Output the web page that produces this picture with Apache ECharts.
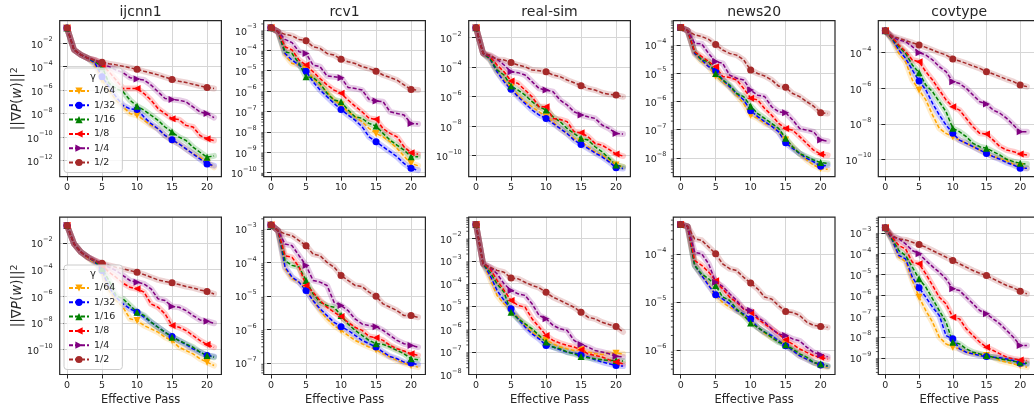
<!DOCTYPE html>
<html><head><meta charset="utf-8">
<script src="https://cdn.jsdelivr.net/npm/echarts@6/dist/echarts.min.js"></script>
<style>html,body{margin:0;padding:0;background:#fff}#c{width:1034px;height:413px}</style>
</head><body><div id="c"></div>
<script>
// ---------- DATA (values are log10 of ||∇P(w)||²) ----------
const datasets = ['ijcnn1', 'rcv1', 'real-sim', 'news20', 'covtype'];
const gammas = ['1/64', '1/32', '1/16', '1/8', '1/4', '1/2'];
const passes = [0,1,2,3,4,5,6,7,8,9,10,11,12,13,14,15,16,17,18,19,20,21];
const xTicks = [0, 5, 10, 15, 20];

// row 1
const ijcnn1_r1_g64 = [-0.71,-2.57,-3.0,-3.3,-3.86,-5.14,-6.0,-6.86,-7.43,-8.0,-8.14,-8.57,-9.0,-9.29,-9.86,-10.29,-10.57,-11.0,-11.43,-11.71,-12.14,-12.57];
const ijcnn1_r1_g32 = [-0.71,-2.57,-3.0,-3.3,-3.71,-4.86,-5.71,-6.57,-7.3,-7.6,-7.66,-8.29,-8.86,-9.29,-9.86,-10.23,-10.57,-11.0,-11.43,-11.86,-12.29,-12.43];
const ijcnn1_r1_g16 = [-0.71,-2.57,-3.0,-3.29,-3.57,-4.0,-5.43,-5.86,-6.14,-6.86,-7.37,-7.71,-8.14,-8.57,-9.14,-9.57,-10.0,-10.29,-10.86,-11.29,-11.71,-11.6];
const ijcnn1_r1_g8  = [-0.71,-2.57,-3.0,-3.29,-3.45,-3.86,-4.43,-5.14,-5.86,-5.86,-5.86,-6.29,-6.86,-7.57,-8.0,-8.43,-8.51,-9.0,-9.14,-9.86,-10.14,-10.29];
const ijcnn1_r1_g4  = [-0.71,-2.57,-3.0,-3.29,-3.45,-3.75,-4.0,-4.29,-4.51,-4.94,-5.06,-5.14,-5.57,-6.14,-6.71,-6.8,-6.86,-7.0,-7.43,-7.86,-8.0,-8.34];
const ijcnn1_r1_g2  = [-0.71,-2.57,-3.0,-3.29,-3.45,-3.63,-3.75,-3.85,-3.97,-4.1,-4.23,-4.4,-4.55,-4.7,-4.9,-5.09,-5.25,-5.35,-5.5,-5.65,-5.77,-5.86];

const rcv1_r1_g64 = [-2.89,-3.08,-4.23,-4.64,-4.72,-4.89,-5.38,-5.7,-6.03,-6.44,-6.69,-7.02,-7.26,-7.51,-7.84,-8.08,-8.25,-8.49,-8.82,-9.2,-9.56,-9.67];
const rcv1_r1_g32 = [-2.89,-3.08,-4.15,-4.48,-4.72,-5.02,-5.54,-5.95,-6.28,-6.61,-6.9,-7.18,-7.43,-7.75,-8.25,-8.49,-8.74,-8.98,-9.23,-9.56,-9.8,-9.89];
const rcv1_r1_g16 = [-2.89,-3.08,-4.07,-4.15,-4.64,-5.3,-5.33,-5.62,-6.11,-6.44,-6.52,-6.93,-7.26,-7.34,-7.59,-7.72,-8.08,-8.41,-8.66,-8.9,-9.23,-9.23];
const rcv1_r1_g8  = [-2.89,-3.08,-3.82,-3.98,-4.48,-4.72,-5.05,-5.38,-5.7,-5.95,-6.11,-6.44,-6.74,-7.02,-7.34,-7.39,-7.84,-8.08,-8.25,-8.74,-9.03,-9.1];
const rcv1_r1_g4  = [-2.89,-3.08,-3.46,-3.62,-4.07,-4.15,-4.72,-4.8,-5.26,-5.3,-5.34,-5.82,-5.87,-5.95,-6.41,-6.49,-6.52,-7.02,-7.1,-7.18,-7.59,-7.62];
const rcv1_r1_g2  = [-2.89,-3.08,-3.21,-3.28,-3.46,-3.52,-3.82,-3.9,-4.15,-4.23,-4.43,-4.56,-4.64,-4.8,-4.89,-5.02,-5.21,-5.33,-5.46,-5.7,-5.92,-5.95];

const realsim_r1_g64 = [-1.32,-3.06,-3.51,-4.31,-4.87,-5.37,-5.89,-6.34,-6.68,-7.02,-7.36,-7.69,-8.15,-8.49,-8.82,-9.05,-9.39,-9.73,-9.95,-10.29,-10.63,-10.75];
const realsim_r1_g32 = [-1.32,-3.06,-3.47,-4.31,-4.98,-5.5,-6.0,-6.45,-6.9,-7.24,-7.47,-7.81,-8.15,-8.49,-8.94,-9.23,-9.5,-9.8,-10.07,-10.41,-10.81,-10.86];
const realsim_r1_g16 = [-1.32,-3.06,-3.4,-4.19,-4.53,-5.28,-5.55,-5.89,-6.34,-6.68,-6.9,-7.36,-7.69,-8.15,-8.49,-8.82,-8.94,-9.39,-9.73,-10.18,-10.63,-10.75];
const realsim_r1_g8  = [-1.32,-3.06,-3.29,-3.85,-4.31,-4.94,-5.1,-5.55,-6.0,-6.68,-6.68,-7.47,-7.54,-7.69,-8.37,-8.44,-8.71,-9.16,-9.28,-9.57,-9.89,-10.02];
const realsim_r1_g4  = [-1.32,-3.06,-3.24,-3.47,-3.85,-4.31,-4.37,-4.53,-4.98,-5.44,-5.55,-5.66,-6.23,-6.56,-7.02,-7.24,-7.36,-7.47,-7.92,-8.15,-8.49,-8.53];
const realsim_r1_g2  = [-1.32,-3.06,-3.18,-3.47,-3.51,-3.69,-3.85,-3.97,-4.19,-4.24,-4.31,-4.53,-4.64,-4.87,-5.05,-5.25,-5.44,-5.55,-5.73,-5.84,-5.89,-6.0];

const news20_r1_g64 = [-3.38,-3.49,-4.32,-4.59,-4.77,-5.1,-5.3,-5.5,-5.78,-6.07,-6.49,-6.6,-6.78,-6.88,-7.08,-7.37,-7.61,-7.85,-8.08,-8.26,-8.38,-8.41];
const news20_r1_g32 = [-3.38,-3.49,-4.3,-4.53,-4.77,-4.91,-5.24,-5.48,-5.72,-5.95,-6.33,-6.54,-6.72,-6.88,-7.08,-7.47,-7.67,-7.85,-8.02,-8.14,-8.3,-8.26];
const news20_r1_g16 = [-3.38,-3.49,-4.24,-4.53,-4.59,-5.01,-5.24,-5.42,-5.72,-5.83,-6.17,-6.43,-6.6,-6.78,-6.96,-7.31,-7.61,-7.85,-7.96,-8.08,-8.17,-8.2];
const news20_r1_g8  = [-3.38,-3.49,-4.24,-4.41,-4.59,-4.77,-5.12,-5.15,-5.24,-5.54,-5.89,-5.95,-6.25,-6.49,-6.78,-6.96,-7.02,-7.25,-7.49,-7.73,-7.87,-7.91];
const news20_r1_g4  = [-3.38,-3.49,-3.94,-3.96,-4.3,-4.59,-4.65,-5.07,-5.18,-5.24,-5.6,-5.78,-5.83,-6.19,-6.37,-6.4,-6.66,-6.96,-7.02,-7.08,-7.37,-7.41];
const news20_r1_g2  = [-3.38,-3.49,-3.64,-3.7,-3.8,-3.98,-4.18,-4.3,-4.36,-4.53,-4.89,-5.01,-5.1,-5.24,-5.46,-5.5,-5.72,-5.83,-6.01,-6.17,-6.4,-6.43];

const covtype_r1_g64 = [-2.76,-3.29,-4.04,-4.51,-5.54,-6.1,-6.66,-7.51,-8.26,-8.54,-8.73,-8.92,-9.1,-9.29,-9.48,-9.67,-9.85,-9.95,-10.08,-10.27,-10.42,-10.51];
const covtype_r1_g32 = [-2.76,-3.23,-3.85,-4.32,-4.98,-5.59,-6.1,-6.85,-7.51,-8.07,-8.54,-8.92,-9.1,-9.29,-9.48,-9.67,-9.85,-10.0,-10.19,-10.32,-10.51,-10.51];
const covtype_r1_g16 = [-2.76,-3.19,-3.66,-4.04,-4.69,-5.13,-5.82,-6.2,-6.76,-7.32,-8.26,-8.45,-8.73,-9.1,-9.29,-9.38,-9.57,-9.76,-10.0,-10.13,-10.23,-10.27];
const covtype_r1_g8  = [-2.76,-3.14,-3.57,-3.94,-4.41,-4.51,-5.07,-5.54,-6.1,-6.66,-7.04,-7.23,-7.7,-8.17,-8.54,-8.58,-8.92,-9.29,-9.48,-9.57,-9.7,-9.76];
const covtype_r1_g4  = [-2.76,-3.1,-3.29,-3.38,-3.66,-4.0,-4.13,-4.41,-4.79,-5.07,-5.63,-5.73,-6.01,-6.38,-6.76,-6.89,-7.23,-7.41,-7.7,-8.07,-8.45,-8.45];
const covtype_r1_g2  = [-2.76,-3.06,-3.19,-3.32,-3.44,-3.57,-3.7,-3.85,-4.0,-4.13,-4.36,-4.47,-4.6,-4.75,-4.88,-5.07,-5.2,-5.35,-5.5,-5.63,-5.82,-5.91];

// row 2
const ijcnn1_r2_g64 = [-0.7,-2.08,-2.7,-3.13,-3.53,-4.2,-5.58,-6.33,-6.83,-7.7,-7.83,-8.2,-8.45,-8.7,-9.08,-9.33,-9.83,-10.08,-10.33,-10.7,-10.95,-11.2];
const ijcnn1_r2_g32 = [-0.7,-2.08,-2.7,-3.08,-3.45,-4.08,-5.33,-6.08,-6.58,-6.95,-7.2,-7.58,-7.95,-8.33,-8.7,-9.03,-9.33,-9.63,-9.95,-10.2,-10.45,-10.53];
const ijcnn1_r2_g16 = [-0.7,-2.08,-2.7,-3.08,-3.38,-3.95,-4.83,-5.95,-6.2,-6.7,-7.2,-7.45,-7.95,-8.33,-8.7,-9.08,-9.33,-9.58,-9.83,-10.2,-10.45,-10.58];
const ijcnn1_r2_g8  = [-0.7,-2.08,-2.7,-3.08,-3.33,-3.7,-4.2,-4.58,-5.03,-5.33,-5.45,-5.7,-6.58,-6.83,-7.33,-8.2,-8.33,-8.58,-8.95,-9.33,-9.63,-9.83];
const ijcnn1_r2_g4  = [-0.7,-2.08,-2.7,-3.08,-3.33,-3.58,-3.83,-4.08,-4.45,-4.83,-4.95,-5.08,-5.45,-6.2,-6.33,-6.78,-6.83,-7.08,-7.45,-7.78,-7.88,-8.03];
const ijcnn1_r2_g2  = [-0.7,-2.08,-2.7,-3.08,-3.33,-3.53,-3.7,-3.83,-3.95,-4.08,-4.2,-4.38,-4.58,-4.78,-4.9,-5.0,-5.13,-5.28,-5.38,-5.53,-5.65,-5.83];

const rcv1_r2_g64 = [-2.88,-3.05,-4.19,-4.49,-4.59,-4.79,-5.14,-5.44,-5.69,-5.89,-6.03,-6.18,-6.33,-6.43,-6.53,-6.61,-6.73,-6.83,-6.93,-7.01,-7.08,-7.13];
const rcv1_r2_g32 = [-2.88,-3.05,-4.14,-4.44,-4.59,-4.84,-5.14,-5.39,-5.59,-5.79,-5.92,-6.03,-6.18,-6.33,-6.43,-6.53,-6.68,-6.81,-6.88,-6.98,-7.01,-7.05];
const rcv1_r2_g16 = [-2.88,-3.05,-3.95,-4.09,-4.14,-4.54,-4.94,-5.19,-5.29,-5.34,-5.59,-5.84,-6.03,-6.18,-6.33,-6.43,-6.45,-6.53,-6.63,-6.73,-6.88,-6.91];
const rcv1_r2_g8  = [-2.88,-3.05,-3.8,-3.85,-4.14,-4.69,-4.89,-5.14,-5.34,-5.49,-5.62,-5.79,-5.94,-6.03,-6.21,-6.25,-6.33,-6.48,-6.58,-6.65,-6.73,-6.78];
const rcv1_r2_g4  = [-2.88,-3.05,-3.45,-3.5,-3.8,-4.09,-4.54,-4.59,-4.69,-5.19,-5.29,-5.44,-5.69,-5.84,-5.89,-5.92,-6.03,-6.18,-6.33,-6.43,-6.48,-6.53];
const rcv1_r2_g2  = [-2.88,-3.05,-3.15,-3.2,-3.35,-3.5,-3.75,-3.8,-4.0,-4.14,-4.39,-4.54,-4.69,-4.72,-4.89,-5.01,-5.24,-5.34,-5.44,-5.59,-5.59,-5.64];

const realsim_r2_g64 = [-1.4,-3.13,-3.79,-4.52,-4.89,-5.18,-5.48,-5.84,-6.13,-6.35,-6.5,-6.65,-6.79,-6.87,-6.94,-6.91,-7.01,-7.09,-7.12,-7.06,-7.06,-7.09];
const realsim_r2_g32 = [-1.4,-3.13,-3.64,-4.3,-4.74,-5.11,-5.55,-5.91,-6.21,-6.43,-6.72,-6.79,-6.91,-7.01,-7.06,-7.13,-7.23,-7.35,-7.45,-7.53,-7.6,-7.63];
const realsim_r2_g16 = [-1.4,-3.13,-3.5,-4.01,-4.38,-5.26,-5.55,-5.77,-5.99,-6.28,-6.57,-6.79,-6.87,-7.01,-7.09,-7.21,-7.26,-7.31,-7.35,-7.38,-7.38,-7.41];
const realsim_r2_g8  = [-1.4,-3.13,-3.35,-3.86,-4.3,-4.74,-4.96,-5.04,-5.55,-5.91,-6.28,-6.5,-6.62,-6.72,-6.79,-6.91,-7.09,-7.16,-7.23,-7.35,-7.45,-7.53];
const realsim_r2_g4  = [-1.4,-3.13,-3.28,-3.57,-4.01,-4.3,-4.45,-4.52,-4.89,-5.4,-5.55,-5.84,-5.99,-6.06,-6.5,-6.68,-6.79,-6.94,-7.01,-7.09,-7.2,-7.23];
const realsim_r2_g2  = [-1.4,-3.13,-3.28,-3.42,-3.5,-3.76,-3.79,-3.94,-4.08,-4.18,-4.38,-4.6,-4.74,-4.89,-5.04,-5.26,-5.48,-5.55,-5.7,-5.8,-5.89,-6.13];

const news20_r2_g64 = [-3.39,-3.43,-4.24,-4.45,-4.63,-4.87,-5.01,-5.11,-5.18,-5.28,-5.39,-5.53,-5.65,-5.74,-5.81,-5.88,-6.01,-6.12,-6.19,-6.26,-6.33,-6.36];
const news20_r2_g32 = [-3.39,-3.43,-4.24,-4.45,-4.66,-4.85,-4.94,-5.04,-5.18,-5.25,-5.35,-5.53,-5.63,-5.7,-5.81,-5.91,-6.01,-6.12,-6.19,-6.26,-6.31,-6.34];
const news20_r2_g16 = [-3.39,-3.43,-4.24,-4.42,-4.52,-4.66,-4.9,-4.97,-5.15,-5.28,-5.44,-5.53,-5.63,-5.74,-5.84,-5.89,-5.98,-6.08,-6.15,-6.26,-6.29,-6.33];
const news20_r2_g8  = [-3.39,-3.43,-4.14,-4.24,-4.38,-4.56,-4.73,-4.9,-5.01,-5.15,-5.22,-5.35,-5.46,-5.56,-5.67,-5.79,-5.88,-5.98,-6.05,-6.12,-6.15,-6.19];
const news20_r2_g4  = [-3.39,-3.43,-3.97,-4.0,-4.21,-4.59,-4.68,-4.83,-4.97,-5.15,-5.18,-5.32,-5.42,-5.56,-5.67,-5.7,-5.77,-5.81,-5.94,-6.05,-6.1,-6.14];
const news20_r2_g2  = [-3.39,-3.43,-3.69,-3.72,-3.86,-4.0,-4.21,-4.31,-4.35,-4.49,-4.61,-4.73,-4.9,-4.94,-5.08,-5.2,-5.22,-5.28,-5.42,-5.49,-5.51,-5.53];

const covtype_r2_g64 = [-2.76,-3.37,-4.17,-4.38,-5.29,-6.09,-6.73,-7.29,-8.01,-8.33,-8.49,-8.57,-8.73,-8.81,-8.84,-8.89,-8.97,-9.13,-9.21,-9.29,-9.37,-9.45];
const covtype_r2_g32 = [-2.76,-3.34,-4.09,-4.25,-5.13,-5.64,-6.09,-6.57,-6.97,-7.93,-8.09,-8.57,-8.73,-8.81,-8.89,-8.94,-8.97,-9.0,-9.06,-9.13,-9.26,-9.29];
const covtype_r2_g16 = [-2.76,-3.29,-3.85,-4.09,-4.65,-5.21,-5.61,-6.17,-6.73,-7.29,-8.25,-8.33,-8.57,-8.73,-8.81,-8.89,-8.97,-9.05,-9.1,-9.16,-9.21,-9.26];
const covtype_r2_g8  = [-2.76,-3.21,-3.61,-3.77,-4.41,-4.49,-4.97,-5.53,-6.09,-6.41,-7.05,-7.13,-7.61,-7.93,-8.25,-8.49,-8.65,-8.81,-8.97,-9.05,-9.1,-9.13];
const covtype_r2_g4  = [-2.76,-3.18,-3.29,-3.53,-3.85,-4.01,-4.33,-4.62,-4.89,-5.21,-5.69,-5.77,-6.09,-6.41,-6.73,-6.89,-7.13,-7.37,-7.69,-8.01,-8.41,-8.41];
const covtype_r2_g2  = [-2.76,-3.13,-3.29,-3.34,-3.45,-3.56,-3.69,-3.85,-4.01,-4.17,-4.33,-4.49,-4.65,-4.81,-4.94,-5.05,-5.21,-5.37,-5.53,-5.64,-5.8,-5.93];

// y axis extents (log10) and tick exponents per panel
const yRange_r1 = [[-13.37,-0.09],[-10.21,-2.54],[-11.42,-0.85],[-8.67,-3.14],[-10.98,-2.2]];
const yRange_r2 = [[-11.875,-0.075],[-7.35,-2.65],[-8.0,-1.08],[-6.51,-3.24],[-9.8,-2.25]];
const yTicks_r1 = [[-12,-10,-8,-6,-4,-2],[-10,-9,-8,-7,-6,-5,-4,-3],[-10,-8,-6,-4,-2],[-8,-7,-6,-5,-4],[-10,-8,-6,-4]];
const yTicks_r2 = [[-10,-8,-6,-4,-2],[-7,-6,-5,-4,-3],[-8,-7,-6,-5,-4,-3,-2],[-6,-5,-4],[-9,-8,-7,-6,-5,-4,-3]];

const rows = [
  [[ijcnn1_r1_g64,ijcnn1_r1_g32,ijcnn1_r1_g16,ijcnn1_r1_g8,ijcnn1_r1_g4,ijcnn1_r1_g2],
   [rcv1_r1_g64,rcv1_r1_g32,rcv1_r1_g16,rcv1_r1_g8,rcv1_r1_g4,rcv1_r1_g2],
   [realsim_r1_g64,realsim_r1_g32,realsim_r1_g16,realsim_r1_g8,realsim_r1_g4,realsim_r1_g2],
   [news20_r1_g64,news20_r1_g32,news20_r1_g16,news20_r1_g8,news20_r1_g4,news20_r1_g2],
   [covtype_r1_g64,covtype_r1_g32,covtype_r1_g16,covtype_r1_g8,covtype_r1_g4,covtype_r1_g2]],
  [[ijcnn1_r2_g64,ijcnn1_r2_g32,ijcnn1_r2_g16,ijcnn1_r2_g8,ijcnn1_r2_g4,ijcnn1_r2_g2],
   [rcv1_r2_g64,rcv1_r2_g32,rcv1_r2_g16,rcv1_r2_g8,rcv1_r2_g4,rcv1_r2_g2],
   [realsim_r2_g64,realsim_r2_g32,realsim_r2_g16,realsim_r2_g8,realsim_r2_g4,realsim_r2_g2],
   [news20_r2_g64,news20_r2_g32,news20_r2_g16,news20_r2_g8,news20_r2_g4,news20_r2_g2],
   [covtype_r2_g64,covtype_r2_g32,covtype_r2_g16,covtype_r2_g8,covtype_r2_g4,covtype_r2_g2]]
];
const yRanges = [yRange_r1, yRange_r2];
const yTicksAll = [yTicks_r1, yTicks_r2];

// ---------- STYLE / LAYOUT ----------
const colors = ['#ffa500','#0000ff','#008000','#ff0000','#800080','#a52a2a'];
const symbols = ['triangle','circle','triangle','triangle','triangle','circle'];
const rotates = [180, 0, 0, 90, -90, 0];
const colLeft = [59.7, 263.7, 468.7, 673.3, 878.3];
const panelW = 161.7;
const rowTop = [20.7, 217.2];
const panelH = [156, 157.3];
const FONT = 'DejaVu Sans';
const TXT = '#262626';
const X_MIN = -1.05, X_MAX = 22.05;

const grids = [], xAxes = [], yAxes = [], series = [], graphics = [];
const supMinus = n => (n < 0 ? '\u2212' : '') + Math.abs(n);

rows.forEach((row, r) => {
  row.forEach((panel, c) => {
    const idx = grids.length;
    const [ymin, ymax] = yRanges[r][c];
    const ticks = yTicksAll[r][c];
    const step = ticks.length > 1 ? Math.abs(ticks[1] - ticks[0]) : 1;
    grids.push({left: colLeft[c], top: rowTop[r], width: panelW, height: panelH[r], containLabel: false});
    xAxes.push({
      gridIndex: idx, type: 'value', min: X_MIN, max: X_MAX, splitNumber: 5,
      axisLine: {show: false},
      axisTick: {show: true, length: 4, customValues: xTicks, lineStyle: {color: TXT, width: 1}},
      axisLabel: {customValues: xTicks, fontSize: 9.5, color: TXT, fontFamily: FONT, margin: 6},
      splitLine: {show: true, lineStyle: {color: '#d6d6d6', width: 1}}
    });
    yAxes.push({
      gridIndex: idx, type: 'value', min: ymin, max: ymax,
      splitNumber: Math.round((ymax - ymin) / step),
      axisLine: {show: false},
      axisTick: {show: true, length: 4, customValues: ticks, lineStyle: {color: TXT, width: 1}},
      axisLabel: {
        customValues: ticks, margin: 7,
        formatter: v => '{b|10}{s|' + supMinus(Math.round(v)) + '}',
        rich: {
          b: {fontSize: 9.5, fontFamily: FONT, color: TXT, lineHeight: 14, verticalAlign: 'bottom'},
          s: {fontSize: 6.5, fontFamily: FONT, color: TXT, lineHeight: 8, verticalAlign: 'top'}
        }
      },
      splitLine: {show: true, lineStyle: {color: '#d6d6d6', width: 1}}
    });
    // minor log ticks for panels whose major ticks are one decade apart
    if (step === 1) {
      const minors = [];
      for (let n = Math.floor(ymin); n <= Math.ceil(ymax); n++) {
        for (let k = 2; k <= 9; k++) {
          const v = n + Math.log10(k);
          if (v > ymin && v < ymax) minors.push([X_MIN, v]);
        }
      }
      series.push({
        type: 'custom', xAxisIndex: idx, yAxisIndex: idx, silent: true, clip: false, z: 1,
        data: minors,
        renderItem: (params, api) => {
          const p = api.coord([api.value(0), api.value(1)]);
          return {type: 'line', shape: {x1: p[0] - 2.4, y1: p[1], x2: p[0], y2: p[1]},
                  style: {stroke: TXT, lineWidth: 0.8}};
        }
      });
    }
    panel.forEach((vals, j) => {
      series.push({
        type: 'line', name: 'band', xAxisIndex: idx, yAxisIndex: idx, silent: true,
        data: passes.map((x, k) => [x, vals[k]]), symbol: 'none',
        lineStyle: {color: colors[j], width: 6, opacity: 0.2, cap: 'round', join: 'round'},
        z: 2
      });
      series.push({
        type: 'line', name: gammas[j], xAxisIndex: idx, yAxisIndex: idx, silent: true,
        data: passes.map((x, k) => k % 5 === 0 ? {value: [x, vals[k]]} : {value: [x, vals[k]], symbol: 'none'}),
        symbol: symbols[j], symbolRotate: rotates[j], symbolSize: 7, showAllSymbol: true,
        itemStyle: {color: colors[j]},
        lineStyle: {color: colors[j], width: 1.5, type: [4, 2]},
        z: 3
      });
    });
    // frame
    graphics.push({type: 'rect', silent: true, z: 5,
      shape: {x: colLeft[c], y: rowTop[r], width: panelW, height: panelH[r]},
      style: {fill: null, stroke: TXT, lineWidth: 1.2}});
    if (r === 0) {
      graphics.push({type: 'text', silent: true, z: 5, x: colLeft[c] + panelW / 2, y: 12,
        style: {text: datasets[c], font: '14px "DejaVu Sans"', fill: TXT, textAlign: 'center', textVerticalAlign: 'middle'}});
    } else {
      graphics.push({type: 'text', silent: true, z: 5, x: colLeft[c] + panelW / 2, y: 400,
        style: {text: 'Effective Pass', font: '11.5px "DejaVu Sans"', fill: TXT, textAlign: 'center', textVerticalAlign: 'middle'}});
    }
  });
  // y axis title
  graphics.push({type: 'text', silent: true, z: 5, x: 17, y: rowTop[r] + panelH[r] / 2, rotation: Math.PI / 2,
    style: {text: '||\u2207{i|P}({i|w})||{s|2}', font: '13.5px "DejaVu Sans"', fill: TXT, textAlign: 'center', textVerticalAlign: 'middle',
      rich: {i: {fontStyle: 'italic', fontSize: 13.5, fontFamily: FONT, fill: TXT}, s: {fontSize: 9.5, fontFamily: FONT, fill: TXT, verticalAlign: 'top', lineHeight: 9}}}});
  // legend title γ
  graphics.push({type: 'text', silent: true, z: 12, x: 93, y: r === 0 ? 77 : 274,
    style: {text: '\u03b3', font: '10px "DejaVu Sans"', fill: TXT, textAlign: 'center', textVerticalAlign: 'middle'}});
});

const legends = [68, 265].map(top => ({
  data: gammas, orient: 'vertical', left: 64, top: top,
  itemWidth: 20, itemHeight: 9, itemGap: 4.3,
  padding: [18, 7, 5, 4],
  backgroundColor: 'rgba(255,255,255,0.8)', borderColor: '#cccccc', borderWidth: 1, borderRadius: 3,
  textStyle: {fontSize: 9.5, lineHeight: 10, color: TXT, fontFamily: FONT},
  selectedMode: false, z: 10
}));

const chart = echarts.init(document.getElementById('c'), null, {renderer: 'canvas'});
chart.setOption({
  animation: false,
  backgroundColor: '#ffffff',
  textStyle: {fontFamily: FONT},
  grid: grids, xAxis: xAxes, yAxis: yAxes, series: series,
  legend: legends, graphic: graphics
});
</script></body></html>
